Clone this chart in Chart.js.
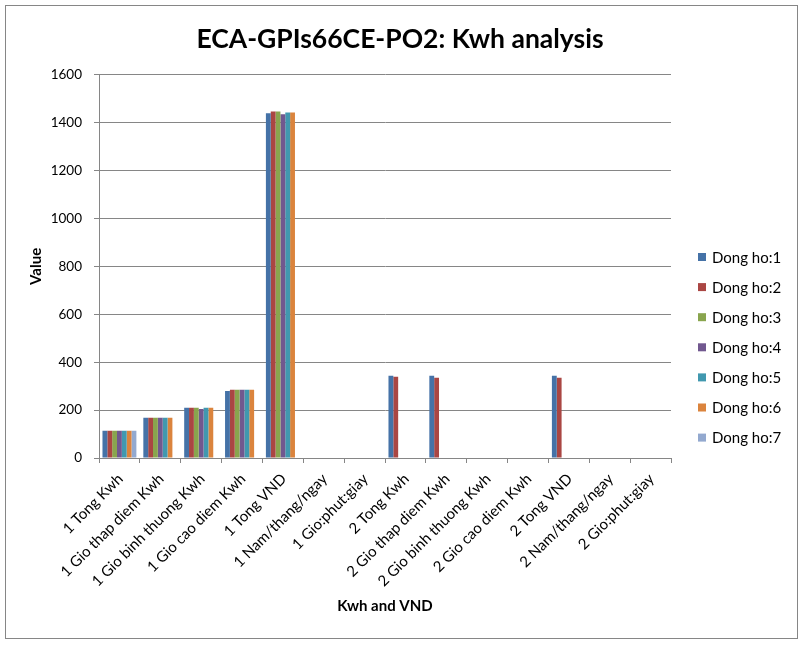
<!DOCTYPE html>
<html>
<head>
<meta charset="utf-8">
<script src="https://cdn.jsdelivr.net/npm/chart.js@4"></script>
<style>
  body { margin: 0; background: #fff; }
</style>
</head>
<body>
<canvas id="chart" width="804" height="645"></canvas>
<script>
// Categories on the x axis
const categories = [
  '1 Tong Kwh', '1 Gio thap diem Kwh', '1 Gio binh thuong Kwh', '1 Gio cao diem Kwh',
  '1 Tong VND', '1 Nam/thang/ngay', '1 Gio:phut:giay', '2 Tong Kwh',
  '2 Gio thap diem Kwh', '2 Gio binh thuong Kwh', '2 Gio cao diem Kwh', '2 Tong VND',
  '2 Nam/thang/ngay', '2 Gio:phut:giay'
];

const seriesNames = ['Dong ho:1', 'Dong ho:2', 'Dong ho:3', 'Dong ho:4', 'Dong ho:5', 'Dong ho:6', 'Dong ho:7'];

// Values (null = no bar)
const dongHo1 = [114, 168, 210, 280, 1439, null, null, 343, 343, null, null, 343, null, null];
const dongHo2 = [114, 168, 210, 285, 1447, null, null, 339, 335, null, null, 335, null, null];
const dongHo3 = [114, 168, 210, 285, 1447, null, null, null, null, null, null, null, null, null];
const dongHo4 = [114, 168, 205, 285, 1435, null, null, null, null, null, null, null, null, null];
const dongHo5 = [114, 168, 210, 285, 1443, null, null, null, null, null, null, null, null, null];
const dongHo6 = [114, 168, 210, 285, 1443, null, null, null, null, null, null, null, null, null];
const dongHo7 = [114, null, null, null, null, null, null, null, null, null, null, null, null, null];

const seriesValues = [dongHo1, dongHo2, dongHo3, dongHo4, dongHo5, dongHo6, dongHo7];
const seriesColors = ['#4572A7', '#AA4643', '#89A54E', '#71588F', '#4198AF', '#DB843D', '#93A9CF'];

const FONT = 'Lato, "Open Sans", sans-serif';

// White background + thin outer frame like the Excel chart
const framePlugin = {
  id: 'frame',
  afterLayout(chart) {
    // centre the title on the whole picture, not only the plot
    chart.titleBlock.left = 0;
    chart.titleBlock.right = chart.width - 4;
  },
  beforeDraw(chart) {
    const ctx = chart.ctx;
    ctx.save();
    ctx.fillStyle = '#fff';
    ctx.fillRect(0, 0, chart.width, chart.height);
    ctx.strokeStyle = '#868686';
    ctx.lineWidth = 1;
    ctx.strokeRect(5.5, 5.5, 792, 633);
    ctx.restore();
  }
};

// Legend on the right, drawn from the datasets
const sideLegend = {
  id: 'sideLegend',
  afterDraw(chart) {
    const ctx = chart.ctx;
    const x = chart.chartArea.right + 27;
    ctx.save();
    ctx.font = '15px ' + FONT;
    ctx.textBaseline = 'middle';
    ctx.textAlign = 'left';
    chart.data.datasets.forEach((ds, i) => {
      const y = 257 + i * 30.1;
      ctx.fillStyle = ds.backgroundColor;
      ctx.fillRect(x, y - 4, 8, 8);
      ctx.fillStyle = '#000';
      ctx.fillText(ds.label, x + 14, y + 1);
    });
    ctx.restore();
  }
};

const datasets = seriesNames.map((name, i) => ({
  label: name,
  data: seriesValues[i],
  backgroundColor: seriesColors[i],
  borderWidth: 0,
  categoryPercentage: 0.83,
  barPercentage: 1.0
}));

new Chart(document.getElementById('chart'), {
  type: 'bar',
  data: { labels: categories, datasets: datasets },
  plugins: [framePlugin, sideLegend],
  options: {
    responsive: false,
    animation: false,
    devicePixelRatio: 1,
    layout: { padding: { left: 20, right: 133, top: 0, bottom: 20 } },
    plugins: {
      legend: { display: false },
      tooltip: { enabled: false },
      title: {
        display: true,
        text: 'ECA-GPIs66CE-PO2: Kwh analysis',
        color: '#000',
        font: { family: FONT, size: 26.5, weight: 'bold' },
        padding: { top: 24, bottom: 19 }
      }
    },
    scales: {
      x: {
        afterFit(scale) { scale.height = 167; },
        grid: {
          offset: true,
          drawOnChartArea: false,
          drawTicks: true,
          tickLength: 5,
          color: '#868686'
        },
        border: { color: '#868686' },
        ticks: {
          color: '#000',
          font: { family: FONT, size: 15 },
          maxRotation: 45,
          minRotation: 45,
          autoSkip: false,
          padding: 7,
          labelOffset: 1
        },
        title: {
          display: true,
          text: 'Kwh and VND',
          color: '#000',
          font: { family: FONT, size: 15, weight: 'bold' },
          padding: { top: 0, bottom: 10 }
        }
      },
      y: {
        min: 0,
        max: 1600,
        afterFit(scale) { scale.width = 79; },
        grid: { color: '#868686', tickLength: 5 },
        border: { color: '#868686' },
        ticks: {
          stepSize: 200,
          color: '#000',
          font: { family: FONT, size: 13.5 },
          padding: 12,
          callback: (v) => String(v)
        },
        title: {
          display: true,
          text: 'Value',
          color: '#000',
          font: { family: FONT, size: 15, weight: 'bold' },
          padding: { top: 7, bottom: 0 }
        }
      }
    }
  }
});
</script>
</body>
</html>
